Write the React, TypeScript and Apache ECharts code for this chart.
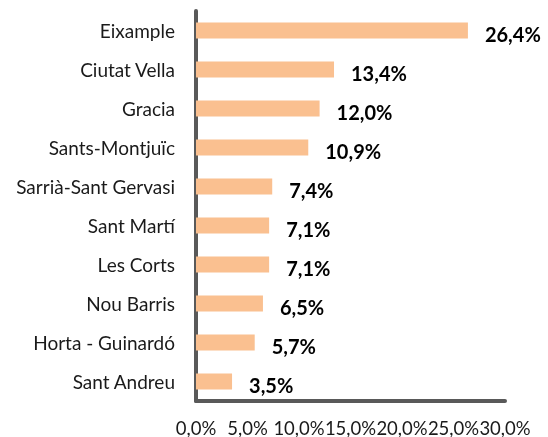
import React, { useEffect, useRef } from "react";
import * as echarts from "echarts";

const categories = [
  "Eixample",
  "Ciutat Vella",
  "Gracia",
  "Sants-Montjuïc",
  "Sarrià-Sant Gervasi",
  "Sant Martí",
  "Les Corts",
  "Nou Barris",
  "Horta - Guinardó",
  "Sant Andreu",
];
const values = [26.4, 13.4, 12.0, 10.9, 7.4, 7.1, 7.1, 6.5, 5.7, 3.5];

const fmt = (v: number) => v.toFixed(1).replace(".", ",") + "%";
const FONT = "Lato, 'Open Sans', sans-serif";

export default function App() {
  const ref = useRef<HTMLDivElement>(null);
  useEffect(() => {
    if (!ref.current) return;
    const chart = echarts.init(ref.current, undefined, { renderer: "svg" });
    chart.setOption({
      animation: false,
      grid: { left: 196, right: 43, top: 11, bottom: 36 },
      xAxis: {
        type: "value",
        min: 0,
        max: 30,
        interval: 5,
        axisLine: { show: true, lineStyle: { color: "#595959", width: 4 } },
        axisTick: { show: false },
        splitLine: { show: false },
        axisLabel: {
          formatter: (v: number) => fmt(v),
          color: "#1a1a1a",
          fontSize: 18.5,
          fontFamily: FONT,
          margin: 17,
        },
      },
      yAxis: {
        type: "category",
        data: categories,
        inverse: true,
        axisLine: { show: true, lineStyle: { color: "#595959", width: 4 } },
        axisTick: { show: false },
        axisLabel: {
          color: "#1a1a1a",
          fontSize: 19,
          fontFamily: FONT,
          margin: 21,
        },
      },
      series: [
        {
          type: "bar",
          data: values,
          barWidth: "41%",
          itemStyle: { color: "#FAC090" },
          label: {
            show: true,
            position: "right",
            distance: 17,
            offset: [0, 3],
            formatter: (p: any) => fmt(p.value),
            color: "#000",
            fontSize: 20,
            fontWeight: "bold",
            fontFamily: FONT,
          },
        },
      ],
    });
    return () => chart.dispose();
  }, []);
  return (
    <div
      ref={ref}
      style={{ position: "fixed", left: 0, top: 0, width: 548, height: 437 }}
    />
  );
}
